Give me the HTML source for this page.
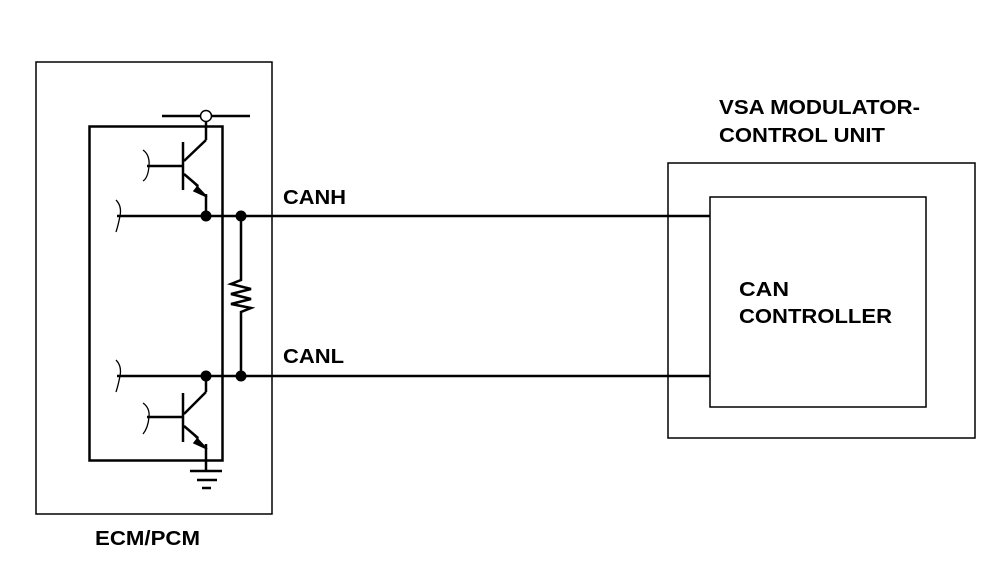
<!DOCTYPE html>
<html><head><meta charset="utf-8"><style>
html,body{margin:0;padding:0;background:#fff;}
svg{display:block}
text{font-family:"Liberation Sans",Arial,sans-serif;font-weight:bold;font-size:20px;fill:#000}
</style></head><body>
<svg width="1008" height="566" viewBox="0 0 1008 566" xmlns="http://www.w3.org/2000/svg">
<g fill="none" stroke="#000" stroke-width="1.5">
<rect x="36" y="62" width="236" height="452"/>
<rect x="668" y="163" width="307" height="275"/>
<rect x="710" y="197" width="216" height="210"/>
</g>
<g fill="none" stroke="#000" stroke-width="2.5">
<rect x="89.5" y="126.5" width="133" height="334"/>
<line x1="162" y1="116" x2="250" y2="116"/>
<line x1="206" y1="122" x2="206" y2="140"/>
<line x1="206" y1="140" x2="184" y2="161"/>
<line x1="183" y1="142" x2="183" y2="190"/>
<line x1="147" y1="166" x2="183" y2="166"/>
<line x1="184" y1="174" x2="198" y2="186"/>
<line x1="206" y1="194" x2="206" y2="216"/>
<line x1="117" y1="216" x2="710" y2="216"/>
<line x1="117" y1="376" x2="710" y2="376"/>
<polyline points="241,216 241,280 231,284 251,289 231,294 251,299 231,304 251,308 241,312 241,376"/>
<line x1="206" y1="376" x2="206" y2="392"/>
<line x1="206" y1="392" x2="184" y2="414"/>
<line x1="183" y1="393" x2="183" y2="442"/>
<line x1="147" y1="417" x2="183" y2="417"/>
<line x1="184" y1="426" x2="198" y2="438"/>
<line x1="206" y1="444" x2="206" y2="471"/>
<line x1="190" y1="471" x2="222" y2="471"/>
<line x1="197" y1="480" x2="217" y2="480"/>
<line x1="202" y1="488" x2="211" y2="488"/>
</g>
<g fill="none" stroke="#000" stroke-width="1.3">
<path d="M143,150 Q150,155 149,166 Q148,178 143,181"/>
<path d="M116,200 Q122,206 120,216 Q118,226 116,232"/>
<path d="M116,360 Q122,366 120,376 Q118,386 116,392"/>
<path d="M143,403 Q150,408 149,417 Q148,428 143,434"/>
</g>
<circle cx="206" cy="116" r="5.5" fill="#fff" stroke="#000" stroke-width="1.5"/>
<polygon points="192,181 207,197 194,191 198,186" fill="#000" stroke="#000" stroke-width="1.5"/>
<polygon points="192,433 207,449 194,443 198,438" fill="#000" stroke="#000" stroke-width="1.5"/>
<g fill="#000">
<circle cx="206" cy="216" r="5.5"/><circle cx="241" cy="216" r="5.5"/>
<circle cx="206" cy="376" r="5.5"/><circle cx="241" cy="376" r="5.5"/>
</g>
<text x="283" y="204" textLength="63" lengthAdjust="spacingAndGlyphs">CANH</text>
<text x="283" y="363" textLength="61" lengthAdjust="spacingAndGlyphs">CANL</text>
<text x="719" y="114" textLength="201" lengthAdjust="spacingAndGlyphs">VSA MODULATOR-</text>
<text x="719" y="142" textLength="166" lengthAdjust="spacingAndGlyphs">CONTROL UNIT</text>
<text x="739" y="296" textLength="50" lengthAdjust="spacingAndGlyphs">CAN</text>
<text x="739" y="323" textLength="153" lengthAdjust="spacingAndGlyphs">CONTROLLER</text>
<text x="95" y="545" textLength="105" lengthAdjust="spacingAndGlyphs">ECM/PCM</text>
</svg>
</body></html>
